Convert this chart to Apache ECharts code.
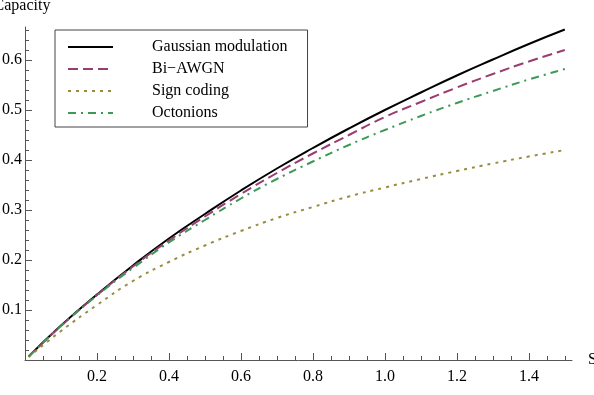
<!DOCTYPE html>
<html style="height: 100%">
<head>
    <meta charset="UTF-8" />
    <title>Capacity</title>
    <script src="https://cdn.jsdelivr.net/npm/echarts@6.0.0/dist/echarts.min.js"></script>
</head>
<body style="height: 100%; margin: 0; background: #fff">
    <div id="main" style="width: 594px; height: 395px"></div>
    <script type="text/javascript">
        // values
        var snr = [0.01, 0.1, 0.2, 0.3, 0.4, 0.5, 0.6, 0.7, 0.8, 0.9, 1.0, 1.1, 1.2, 1.3, 1.4, 1.5];
        var gaussian = [0.007, 0.069, 0.131, 0.189, 0.243, 0.292, 0.339, 0.383, 0.424, 0.463, 0.500, 0.535, 0.569, 0.601, 0.632, 0.661];
        var biAwgn = [0.007, 0.068, 0.130, 0.187, 0.239, 0.287, 0.332, 0.374, 0.413, 0.450, 0.486, 0.516, 0.545, 0.572, 0.597, 0.620];
        var signCoding = [0.006, 0.058, 0.110, 0.158, 0.196, 0.229, 0.258, 0.284, 0.306, 0.327, 0.345, 0.362, 0.378, 0.393, 0.407, 0.420];
        var octonions = [0.007, 0.068, 0.129, 0.184, 0.235, 0.280, 0.323, 0.362, 0.397, 0.430, 0.460, 0.488, 0.514, 0.538, 0.561, 0.582];

        var names = ['Gaussian modulation', 'Bi\u2212AWGN', 'Sign coding', 'Octonions'];

        var font = 'Liberation Serif';
        var axisColor = '#555';

        function pairs(ys) {
            return snr.map(function (x, i) { return [x, ys[i]]; });
        }

        function line(name, ys, color, type) {
            return {
                name: name,
                type: 'line',
                xAxisIndex: 0,
                yAxisIndex: 0,
                data: pairs(ys),
                smooth: true,
                symbol: 'none',
                silent: true,
                lineStyle: { color: color, width: 2, type: type },
                itemStyle: { color: color }
            };
        }

        // grid 0 draws the axis lines, grid 1 the short ticks, grid 2 the long ticks and labels
        function axis(dim, grid, max, interval, tickLen, showLine, showLabels) {
            return {
                type: 'value', gridIndex: grid, min: 0, max: max, interval: interval,
                position: dim === 'x' ? 'bottom' : 'left',
                axisLine: { show: showLine, onZero: true, lineStyle: { color: axisColor, width: 1 } },
                axisTick: { show: tickLen > 0, inside: true, length: tickLen, lineStyle: { color: axisColor } },
                axisLabel: {
                    show: showLabels, margin: dim === 'x' ? 9 : 3,
                    color: '#000', fontFamily: font, fontSize: 16,
                    formatter: function (v) { return v > 0.001 ? v.toFixed(1) : ''; }
                },
                splitLine: { show: false }
            };
        }

        var xMain = axis('x', 0, 1.52, 0.04, 0, true, false);
        xMain.name = 'S';
        xMain.nameLocation = 'end';
        xMain.nameGap = 16;
        xMain.nameTextStyle = { color: '#000', fontFamily: font, fontSize: 16 };

        var yMain = axis('y', 0, 0.666, 0.018, 0, true, false);
        yMain.name = 'Capacity';
        yMain.nameLocation = 'end';
        yMain.nameGap = 13;
        yMain.nameTextStyle = { color: '#000', fontFamily: font, fontSize: 16, padding: [0, 6, 0, 0] };

        var chartDom = document.getElementById('main');
        var myChart = echarts.init(chartDom, null, { renderer: 'canvas' });

        var gridBase = { outerBoundsMode: 'none', containLabel: false };
        var option = {
            animation: false,
            grid: [
                Object.assign({ left: 25, top: 27, width: 547, height: 333 }, gridBase),
                Object.assign({ left: 25, top: 30, width: 540, height: 330 }, gridBase),
                Object.assign({ left: 25, top: 60, width: 504, height: 300 }, gridBase)
            ],
            legend: {
                orient: 'vertical',
                left: 55, top: 30,
                padding: [9, 20, 6, 12],
                itemGap: 6,
                itemWidth: 45,
                itemHeight: 14,
                borderColor: '#444',
                borderWidth: 1,
                selectedMode: false,
                data: names,
                itemStyle: { opacity: 0 },
                textStyle: { color: '#000', fontFamily: font, fontSize: 16, padding: [0, 0, 0, 34], lineHeight: 14 }
            },
            xAxis: [
                xMain,
                axis('x', 1, 1.5, 0.05, 4, false, false),
                axis('x', 2, 1.4, 0.2, 7, false, true)
            ],
            yAxis: [
                yMain,
                axis('y', 1, 0.66, 0.02, 4, false, false),
                axis('y', 2, 0.6, 0.1, 7, false, true)
            ],
            series: [
                line(names[0], gaussian, '#000000', 'solid'),
                line(names[1], biAwgn, '#993d71', [10, 5]),
                line(names[2], signCoding, '#998c3d', [3, 5]),
                line(names[3], octonions, '#3d9956', [8, 5, 2, 5])
            ]
        };
        myChart.setOption(option);
    </script>
</body>
</html>
